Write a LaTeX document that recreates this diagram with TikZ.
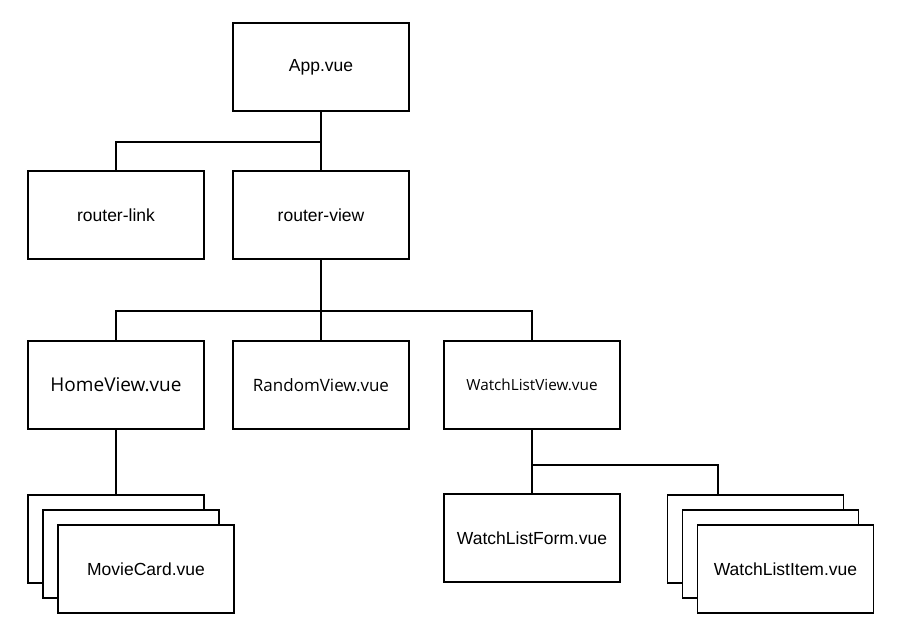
\documentclass[tikz,border=0pt]{standalone}
\usepackage{fontspec}
\setmainfont{Liberation Sans}
\newfontfamily\segoe{Open Sans}
\usetikzlibrary{calc}
\begin{document}
\begin{tikzpicture}[x=1pt,y=-1pt,
  box/.style={draw=black,line width=1.5pt,fill=white,minimum width=176pt,minimum height=88pt,inner sep=0pt,font=\fontsize{17.5}{20}\selectfont},
  link/.style={draw=black,line width=1.5pt}]
\useasboundingbox[fill=white] (0,0) rectangle (903,640);
\node[box] (app) at (321,67) {App.vue};
\node[box] (rlink) at (116,215) {router-link};
\node[box] (rview) at (321,215) {router-view};
\node[box,font=\segoe\fontsize{19}{22}\selectfont] (home) at (116,385) {HomeView.vue};
\node[box,font=\segoe\fontsize{17}{20}\selectfont] (random) at (321,385) {RandomView.vue};
\node[box,font=\segoe\fontsize{15.3}{18}\selectfont] (wlview) at (532,385) {WatchListView.vue};
\node[box] (wlform) at (532,538) {WatchListForm.vue};
\node[box] (mc1) at (116,539) {};
\node[box] (mc2) at (131,554) {};
\node[box] (mc3) at (146,569) {MovieCard.vue};
\node[box] (wi1) at (755.5,539) {};
\node[box] (wi2) at (770.5,554) {};
\node[box] (wi3) at (785.5,569) {WatchListItem.vue};
\coordinate (j1) at (321,142);
\coordinate (j2) at (321,311);
\coordinate (j3) at (532,465);
\coordinate (j4) at (718,465);
\draw[link] (app.south) -- (rview.north);
\draw[link] (rlink.north) |- (j1);
\draw[link] (rview.south) -- (random.north);
\draw[link] (home.north) |- (j2) -| (wlview.north);
\draw[link] (home.south) -- (mc1.north);
\draw[link] (wlview.south) -- (wlform.north);
\draw[link] (j3) -- (j4) -- (j4 |- wi1.north);
\end{tikzpicture}
\end{document}
